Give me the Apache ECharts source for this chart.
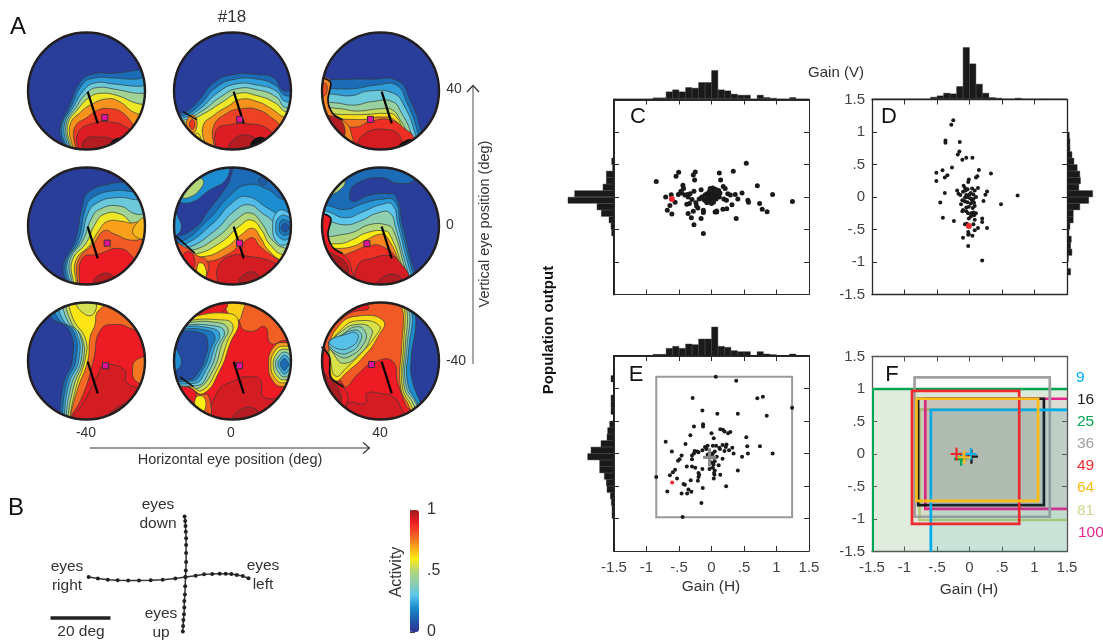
<!DOCTYPE html>
<html><head><meta charset="utf-8">
<style>html,body{margin:0;padding:0;background:#fff}#c{width:1103px;height:642px}</style>
<script src="https://cdn.jsdelivr.net/npm/echarts@6/dist/echarts.min.js"></script>
</head><body><div id="c"></div>
<script>
// ---------- DATA ----------
const tickLabels = ['-1.5','-1','-.5','0','.5','1','1.5'];
const activityColors = ['#2e3192','#1d5cab','#1b8dd0','#5cc6ec','#8ecfb0','#b3d77a','#fdeb14','#f9a11b','#f15a24','#ed1c24','#9b1c20'];
const D_ = [140,-140,-140,-140];   // closes a contour around the lower part of the disc
const disc1 = [
 [.03,[-140,140,140,140,140,-140,-140,-140]],
 [.13,[-41,-110,-45,-64,-30,-27,-10,16,12,29,47,30,92,36,130,38,...D_]],
 [.23,[-38,-110,-42,-62,-26,-27,-6,12,14,22,45,22,80,20,130,22,...D_]],
 [.33,[-36,-110,-38,-60,-22,-27,-2,4,16,14,45,12,85,8,130,8,...D_]],
 [.45,[-34,-110,-35,-58,-18,-28,2,-2,20,6,48,3,88,-4,130,-4,...D_]],
 [.58,[-32,-110,-32,-58,-14,-30,6,-10,24,-4,50,-7,90,-22,130,-24,...D_]],
 [.72,[-30,-110,-28,-58,-8,-34,10,-22,30,-14,52,-16,85,-38,130,-45,...D_]],
 [.85,[-26,-110,-20,-62,2,-44,20,-32,40,-30,60,-36,82,-60,115,-95,...D_]],
 [.92,[-22,-110,-14,-70,10,-55,35,-52,65,-60,85,-80,100,-110,...D_]],
 [.97,[-12,-110,-4,-84,20,-78,50,-86,62,-110,...D_]],
 [0,[36,-100,50,-80,66,-88,60,-115,40,-115],1]
];
const disc2 = [
 [.03,[-140,140,140,140,140,-140,-140,-140]],
 [.13,[-130,-40,-85,-37,-61,-20,-32,14,2,28,41,28,70,22,84,2,98,0,130,0,...D_]],
 [.23,[-130,-44,-85,-42,-58,-26,-28,6,4,20,42,20,72,10,90,-8,130,-8,...D_]],
 [.33,[-130,-48,-85,-46,-55,-30,-24,-2,6,12,42,10,74,0,90,-18,130,-18,...D_]],
 [.45,[-130,-52,-85,-50,-52,-34,-20,-10,8,4,42,2,74,-10,90,-28,130,-28,...D_]],
 [.58,[-130,-56,-85,-54,-48,-38,-16,-18,10,-4,42,-8,72,-20,92,-36,130,-38,...D_]],
 [.72,[-50,-110,-50,-60,-30,-40,-8,-26,14,-14,42,-18,66,-30,90,-45,130,-50,...D_]],
 [.84,[-38,-110,-32,-60,-10,-38,16,-30,44,-32,70,-48,92,-65,130,-70,...D_]],
 [.92,[-36,-110,-27,-66,-4,-57,30,-56,58,-63,78,-85,90,-110,...D_]],
 [.97,[-5,-110,0,-84,30,-76,50,-100]],
 [.74,[-78,-55,-68,-40,-60,-55,-68,-72]],
 [.86,[-73,-56,-68,-48,-64,-56,-68,-65]],
 [.62,[-66,-78,-58,-72,-54,-88,-64,-92]],
 [0,[30,-95,44,-78,58,-86,50,-115],1]
];
const disc3 = [
 [.03,[-140,140,140,140,140,-140,-140,-140]],
 [.13,[-130,16,-80,19,-18,20,30,17,50,-15,67,-61,75,-110,75,-140,-140,-140]],
 [.23,[-130,5,-86,4,-45,4,-7,10,27,10,44,-18,62,-66,70,-110,70,-140,-140,-140]],
 [.33,[-130,-5,-86,-5,-50,-8,-20,0,22,-4,40,-25,58,-70,65,-110,65,-140,-140,-140]],
 [.43,[-130,-20,-78,-20,-45,-24,-15,-18,20,-18,36,-38,52,-72,60,-110,60,-140,-140,-140]],
 [.53,[-130,-30,-70,-30,-40,-34,0,-30,20,-32,34,-50,48,-78,56,-110,56,-140,-140,-140]],
 [.62,[-130,-40,-62,-40,-30,-40,10,-38,25,-42,40,-70,50,-88,52,-110,52,-140,-140,-140]],
 [.76,[-130,-48,-55,-48,-25,-48,0,-44,25,-50,38,-75,48,-110,48,-140,-140,-140]],
 [.87,[-130,-61,-41,-61,-18,-52,16,-49,44,-66,56,-78,60,-110,60,-140,-140,-140]],
 [.93,[-40,-110,-30,-75,16,-66,36,-84,34,-110,34,-140,-40,-140]],
 [.74,[-130,30,-95,24,-84,13,-89,-15,-81,-38,-64,-49,-50,-70,-50,-110,-130,-110]],
 [.82,[-100,10,-92,12,-92,-5,-100,-8]],
 [.97,[-92,-45,-75,-45,-62,-58,-64,-78,-90,-70]],
 [0,[28,-100,42,-84,56,-84,62,-100,40,-115],1]
];
const disc4 = [
 [.03,[-140,140,140,140,140,-140,-140,-140]],
 [.13,[-41,-110,-39,-64,-19,-24,-7,33,4,58,47,73,64,74,90,82,140,82,...D_]],
 [.23,[-38,-110,-35,-62,-14,-24,-2,28,10,48,48,60,80,58,120,58,...D_]],
 [.33,[-35,-110,-32,-60,-10,-24,2,20,16,38,50,48,90,44,120,44,...D_]],
 [.45,[-32,-110,-28,-58,-6,-24,8,12,22,28,55,34,85,20,120,20,...D_]],
 [.58,[-30,-110,-24,-58,0,-28,14,2,30,20,58,20,82,2,120,0,...D_]],
 [.7,[-26,-110,-18,-58,6,-32,22,-6,36,8,60,8,75,5,120,10,...D_]],
 [.8,[-24,-110,-14,-58,12,-30,30,-8,48,-14,75,-24,120,-24,...D_]],
 [.9,[-22,-110,-7,-55,20,-48,55,-38,78,-52,92,-75,120,-90,...D_]],
 [.97,[0,-110,20,-84,45,-84,60,-110,...D_]],
 [.67,[80,-15,86,6,105,14,108,-20]]
];
const disc5 = [
 [.03,[-140,140,140,140,140,-140,-140,-140]],
 [.13,[-130,-20,-95,-18,-60,0,-44,22,-10,67,13,105,140,105,140,-140,-140,-140]],
 [.2,[-130,-30,-90,-28,-40,12,-6,50,25,70,60,62,85,45,130,40,...D_]],
 [.28,[-130,-34,-85,-32,-36,2,0,40,25,50,60,30,85,18,130,15,...D_]],
 [.38,[-130,-40,-80,-38,-30,-8,4,26,28,36,50,22,70,5,80,-20,130,-25,...D_]],
 [.5,[-130,-44,-72,-42,-25,-18,8,12,30,22,50,4,66,-22,90,-38,130,-42,...D_]],
 [.6,[-130,-50,-65,-48,-20,-28,12,0,32,10,50,-8,62,-30,88,-50,130,-52,...D_]],
 [.74,[-130,-54,-50,-52,-14,-38,16,-14,34,-4,48,-20,60,-40,88,-60,130,-62,...D_]],
 [.87,[-130,-62,-42,-60,-8,-48,16,-30,34,-20,46,-34,70,-52,95,-65,130,-70,...D_]],
 [.93,[-32,-110,-24,-68,0,-50,30,-52,60,-58,80,-70,100,-100,...D_]],
 [.97,[5,-110,15,-86,40,-80,55,-110,...D_]],
 [.2,[-90,45,-70,40,-40,60,-10,80,-10,105,-60,90]],
 [.5,[-85,50,-75,48,-55,62,-50,78,-70,80]],
 [.1,[44,78,50,70,58,74,52,82]],
 [.3,[68,-2,76,24,92,24,112,0,92,-30,76,-28]],
 [.22,[73,-3,80,16,94,16,108,-2,94,-22,80,-20]],
 [.15,[79,-3,84,10,94,8,104,-3,94,-14,84,-14]],
 [.08,[83,-3,88,4,94,2,96,-3,92,-9,86,-9]],
 [.22,[-104,25,-92,15,-88,-8,-104,-15]],
 [.82,[-110,-26,-80,-36,-60,-50,-44,-58,-42,-78,-60,-100,-110,-90]],
 [.9,[-84,-50,-72,-44,-64,-60,-68,-72,-82,-66]],
 [.6,[-58,-64,-48,-66,-46,-88,-58,-88]]
];
const disc6 = [
 [.03,[-140,140,140,140,140,-140,-140,-140]],
 [.13,[75,-110,58,-76,38,0,26,50,10,55,-20,52,-47,42,-52,56,-40,72,0,82,30,72,60,80,70,110,-140,110,-140,-140,75,-140]],
 [.22,[66,-110,54,-76,34,0,24,42,0,45,-30,38,-60,28,-92,35,-140,40,-140,-140,66,-140]],
 [.3,[62,-110,50,-76,30,0,20,36,0,36,-30,24,-60,14,-92,25,-140,30,-140,-140,62,-140]],
 [.4,[58,-110,46,-76,26,-4,16,22,-5,22,-35,8,-60,2,-90,8,-140,10,-140,-140,58,-140]],
 [.5,[54,-110,42,-74,22,-8,10,2,-20,2,-45,-10,-68,-15,-90,-18,-140,-18,-140,-140,54,-140]],
 [.6,[50,-110,38,-72,16,-15,5,-8,-25,-12,-45,-22,-70,-30,-140,-30,-140,-140,50,-140]],
 [.74,[46,-110,36,-72,12,-20,0,-14,-25,-24,-45,-34,-72,-38,-140,-38,-140,-140,46,-140]],
 [.87,[44,-110,30,-60,4,-35,-22,-34,-48,-44,-70,-50,-140,-50,-140,-140,44,-140]],
 [.93,[-45,-110,-38,-66,-15,-55,15,-50,30,-58,52,-95,52,-140,-45,-140]],
 [.97,[-5,-110,0,-90,30,-84,35,-110,10,-125]],
 [.9,[-130,26,-98,21,-84,12,-89,-13,-81,-36,-64,-47,-50,-70,-50,-110,-130,-110]],
 [.98,[-100,-45,-75,-50,-55,-70,-62,-88,-95,-70]],
 [.5,[-88,55,-70,60,-60,78,-75,85]]
];
const disc7 = [
 [.03,[-140,140,140,140,140,-140,-140,-140]],
 [.13,[-75,110,-61,75,-30,53,-24,2,-39,-38,-46,-110,-46,-140,140,-140,140,140,-75,140]],
 [.23,[-60,110,-48,72,-22,50,-18,2,-34,-38,-42,-110,-42,-140,140,-140,140,140,-60,140]],
 [.33,[-50,110,-40,70,-17,48,-13,2,-30,-40,-39,-110,-39,-140,140,-140,140,140,-50,140]],
 [.43,[-42,110,-32,68,-12,46,-9,2,-26,-42,-36,-110,-36,-140,140,-140,140,140,-42,140]],
 [.53,[-38,110,-26,66,-8,40,-5,4,-22,-44,-33,-110,-33,-140,140,-140,140,140,-38,140]],
 [.61,[-32,110,-22,70,-2,38,-2,4,-18,-46,-30,-110,-30,-140,140,-140,140,140,-32,140]],
 [.78,[-30,-110,-16,-50,2,0,6,40,14,60,20,85,50,100,105,110,140,-140,-30,-140]],
 [.9,[-32,-110,-5,-55,12,2,24,53,52,62,75,55,105,40,140,-140,-32,-140]],
 [.93,[-32,-110,-4,-68,20,-22,30,-7,64,-15,69,-38,110,-55,140,-140,-32,-140]],
 [.97,[30,-110,50,-80,80,-75,90,-110]],
 [.76,[78,-15,85,2,105,4,105,-35,85,-35]],
 [.54,[-16,102,-10,85,10,78,14,102]]
];
const disc8 = [
 [.9,[-140,140,140,140,140,-140,-140,-140]],
 [.79,[10,110,14,60,32,50,55,58,65,30,90,35,140,30,140,140,10,140]],
 [.64,[-12,102,-8,82,8,68,18,86,20,105]],
 [.91,[-80,75,-50,70,-10,90,-20,110,-80,110]],
 [.93,[-30,-110,-27,-55,10,-30,25,-27,47,-32,53,-61,93,-66,100,-110]],
 [.97,[0,-110,10,-85,40,-82,50,-110]],
 [.8,[-100,-30,-60,-55,-40,-60,-45,-105,-100,-90]],
 [.9,[-90,-45,-68,-48,-62,-62,-76,-72]],
 [.6,[-62,-62,-48,-62,-48,-85,-60,-85]],
 [.62,[-130,60,-78,73,-10,81,10,67,-4,30,-21,-15,-49,-55,-72,-44,-98,-27,-130,-10]],
 [.52,[-130,56,-78,68,-25,70,0,62,-10,30,-26,-14,-52,-50,-72,-40,-130,-12]],
 [.42,[-130,54,-80,64,-32,66,-8,55,-18,28,-32,-14,-58,-46,-75,-38,-130,-20]],
 [.33,[-130,52,-85,60,-34,60,-14,50,-24,26,-38,-14,-62,-42,-130,-20]],
 [.24,[-130,50,-88,58,-38,56,-22,46,-30,24,-44,-14,-66,-38,-130,-20]],
 [.16,[-130,48,-90,54,-44,52,-30,42,-36,22,-50,-14,-70,-34,-130,-18]],
 [.06,[-130,46,-95,50,-50,46,-42,30,-45,10,-56,-16,-76,-32,-130,-16]],
 [.2,[-104,25,-92,15,-88,-8,-104,-15]],
 [.7,[61,-6,70,24,88,31,112,22,115,-6,112,-34,88,-43,70,-36]],
 [.58,[65,-6,73,18,88,25,106,18,111,-6,106,-28,88,-37,73,-30]],
 [.46,[69,-6,76,14,88,20,102,14,107,-6,102,-24,88,-32,76,-26]],
 [.35,[73,-6,79,9,88,15,98,9,103,-6,98,-20,88,-27,79,-20]],
 [.25,[77,-6,82,5,88,10,95,5,99,-6,95,-16,88,-22,82,-16]],
 [.13,[81,-6,84,1,88,4,92,1,95,-6,92,-12,88,-16,84,-12]]
];
const disc9 = [
 [.9,[-140,140,140,140,140,-140,-140,-140]],
 [.8,[-62,-42,-38,-22,-15,-4,20,0,30,-40,50,-80,60,0,45,110,-40,110,-95,65]],
 [.93,[-60,-110,-55,-72,-26,-72,-23,-55,0,-55,22,-61,34,-78,44,-110]],
 [.91,[-80,65,-50,82,-20,90,-50,110,-90,90]],
 [.62,[-88,20,-86,-15,-76,-34,-58,-20,-28,8,-5,40,5,68,-40,76,-70,60]],
 [.55,[-85,25,-84,-5,-75,-26,-58,-12,-32,14,-10,40,-2,60,-40,68,-66,54]],
 [.47,[-84,28,-78,10,-62,-4,-35,12,-18,36,-16,55,-40,62,-66,50]],
 [.4,[-88,30,-70,8,-52,8,-28,30,-26,50,-42,58,-66,44]],
 [.33,[-88,32,-72,14,-50,16,-34,34,-34,48,-48,52,-68,42]],
 [.29,[-86,33,-70,20,-50,24,-38,38,-42,48,-56,46]],
 [.91,[-110,26,-86,5,-86,-24,-63,-44,-56,-70,-75,-80,-110,-60]],
 [.98,[-105,0,-92,-24,-72,-46,-68,-72,-85,-68,-105,-40]],
 [.62,[36,110,39,76,36,24,34,-44,50,-80,58,-110,140,-110,140,110]],
 [.53,[42,110,42,76,39,24,37,-44,54,-80,62,-110,140,-110,140,110]],
 [.42,[46,110,46,72,42,24,40,-42,58,-78,66,-110,140,-110,140,110]],
 [.32,[50,110,50,70,45,24,43,-40,62,-76,70,-110,140,-110,140,110]],
 [.2,[54,110,54,68,48,22,46,-38,64,-76,72,-110,140,-110,140,110]],
 [.03,[58,110,60,64,52,4,54,-34,70,-78,76,-110,140,-110,140,110]]
];
const allDiscs = [disc1,disc2,disc3,disc4,disc5,disc6,disc7,disc8,disc9];
const discCenters = [[86.5,91],[232.5,91],[380.5,91],[86.5,226],[232.5,226],[380.5,226],[86.5,361],[232.5,361],[380.5,361]];
const gazeLine = [[2,-1],[19,-55]];
const fovea = [[31,-45],[12,-48],[-17,-48],[35,-29],[12,-29],[-23,-30],[32,-8],[12,-8],[-15,-6]];
const discWalls = {
 1:[[-84,-35],[-60,-49]],
 2:[[-98,23],[-84,13],[-89,-15],[-81,-38],[-64,-49]],
 4:[[-95,-18],[-64,-46]],
 5:[[-98,21],[-84,12],[-89,-13],[-81,-36],[-64,-47]],
 7:[[-89,-27],[-66,-44]],
 8:[[-100,24],[-86,5],[-86,-24],[-63,-44]]
};
// Panel B: eye trajectories (deg)
const eyesH = [[-32.3,0],[-29.2,-.5],[-25.9,-.9],[-22.6,-1.1],[-19.1,-1.2],[-15.5,-1.2],[-11.6,-1.1],[-7.6,-.9],[-3.4,-.5],[0,0],[3.4,.4],[6.2,.9],[8.9,1],[11.4,1.1],[13.4,1.1],[15.3,1],[17.1,.7],[19.1,.3],[21,-.4]];
const eyesV = [[-.3,20.2],[-.1,18.7],[0,17],[.1,15.1],[.2,12.9],[.2,10.7],[.2,8],[.2,5],[.1,2.2],[0,0],[-.1,-3.1],[-.2,-5.8],[-.4,-8],[-.4,-10.2],[-.5,-12.4],[-.7,-14.3],[-.8,-16.3],[-.9,-18.2]];
const scaleBar = [[-45,-13.7],[-25,-13.7]];
// Panels C, D, E scatter
const scatterC = [[.535,.52],[.335,.395],[.12,.37],[.14,.26],[-.505,.38],[-.545,.32],[-.25,.385],[-.28,.34],[-.26,.26],[-.85,.24],[.705,.175],[.94,.04],[1.245,-.07],[.47,.06],[.365,.04],[.74,-.1],[.78,-.19],[.855,-.225],[.56,-.05],[.57,-.08],[.405,-.03],[.38,-.33],[.315,-.12],[.235,-.18],[.175,-.19],[.08,-.215],[.055,-.23],[-.125,-.56],[-.27,-.425],[-.16,-.33],[-.31,-.32],[-.36,-.255],[-.28,-.22],[-.21,-.17],[-.125,-.205],[-.125,-.24],[-.61,-.26],[-.68,-.205],[-.64,-.13],[-.705,0],[-.56,-.08],[-.62,.035],[-.02,.13],[.02,.14],[.06,.12],[.11,.1],[.03,.08],[-.03,.06],[-.07,.05],[-.1,.03],[-.15,0],[-.19,-.03],[-.12,-.04],[-.06,0],[-.01,.03],[.04,.04],[.08,.05],[.13,.06],[0,-.03],[-.03,-.05],[.03,-.08],[0,-.1],[-.07,-.09],[.07,-.03],[.12,0],[.19,-.03],[.23,-.05],[.18,.16],[.21,.13],[.25,.05],[.29,.03],[.08,-.23],[-.51,.04],[-.46,.06],[-.44,.18],[-.43,.13],[-.41,.03],[-.36,0],[-.33,.05],[-.27,.09],[-.16,.11],[-.38,-.11],[-.34,-.1],[-.24,-.09],[-.23,-.14],[-.3,-.04],[-.37,.04],[-.47,.09],[.02,.02],[-.04,-.02],[.05,.01],[.01,-.06],[.1,.04],[-.09,-.06],[-.03,.09],[.06,.07]];
const redC = [[-.61,-.03]];
const scatterD = [[-.25,1.18],[-.28,1.11],[-.37,.87],[-.37,.835],[-.15,.845],[-.155,.7],[-.18,.655],[-.11,.575],[-.05,.605],[.045,.605],[-.27,.455],[-.415,.41],[-.51,.375],[-.34,.335],[-.38,.3],[-.51,.245],[.145,.415],[.33,.36],[.12,.32],[.1,.3],[-.01,.27],[-.02,.23],[-.09,.175],[-.07,.14],[-.38,.06],[-.45,-.085],[.27,.085],[.245,.035],[.215,-.06],[.74,.025],[.485,-.11],[-.41,-.32],[-.24,-.37],[.195,-.33],[.195,-.385],[.27,-.475],[.13,-.475],[.08,-.51],[.045,-.595],[-.02,-.58],[-.1,-.625],[-.02,-.755],[.195,-.975],[-.19,.1],[-.17,.05],[-.14,.03],[-.1,.08],[-.06,.1],[-.03,.12],[.02,.06],[.06,.04],[.08,.1],[.1,0],[.06,-.03],[.01,-.02],[-.03,0],[-.07,-.01],[-.11,-.05],[-.13,-.11],[-.07,-.07],[-.03,-.08],[.02,-.1],[.07,-.09],[.08,-.14],[.05,-.17],[-.01,-.15],[-.05,-.16],[-.1,-.2],[-.11,-.22],[-.05,-.22],[-.02,-.25],[.03,-.25],[.06,-.24],[.1,-.25],[.02,-.3],[-.01,-.33],[.08,-.35],[.07,-.28],[-.04,-.41],[-.07,-.42],[.06,-.42],[-.02,-.54],[-.01,-.57],[.04,.13],[.13,.14],[.0,.04],[-.05,.03],[.04,-.05]];
const redD = [[-.01,-.445]];
const scatterE = [[.065,1.18],[.38,1.12],[-.29,.855],[.705,.85],[.79,.875],[1.24,.705],[-.14,.66],[.09,.61],[.405,.61],[.85,.58],[-.27,.415],[-.13,.45],[-.13,.415],[.135,.375],[.175,.365],[.2,.34],[.255,.31],[.29,.33],[0,.31],[.035,.235],[-.325,.28],[-.705,.18],[-.4,.145],[.535,.25],[.55,.11],[.745,.11],[.56,0],[.94,0],[.47,-.05],[.405,-.26],[.32,.09],[.34,0],[.23,.14],[-.61,.03],[-.46,-.03],[-.515,-.11],[-.49,-.09],[-.56,-.25],[-.595,-.29],[-.64,-.335],[-.85,-.36],[-.53,-.385],[-.68,-.585],[-.46,-.615],[-.375,-.615],[-.355,-.555],[-.31,-.59],[-.43,-.47],[-.41,-.48],[-.32,-.41],[-.21,-.42],[-.19,-.325],[-.135,-.53],[-.155,-.76],[-.445,-.975],[.225,-.505],[.035,-.385],[.045,-.325],[.135,-.325],[-.1,.1],[-.14,.05],[-.2,.02],[-.22,.03],[-.26,.04],[-.27,0],[-.3,-.03],[-.06,.12],[-.08,.07],[.02,.12],[.07,.12],[.12,.09],[.17,.13],[.22,.1],[.27,.05],[.2,.04],[.13,.07],[.05,.03],[.02,0],[-.03,.01],[-.06,-.02],[0,-.04],[.03,-.06],[.08,-.05],[.17,-.08],[.11,-.18],[.05,-.12],[.03,-.17],[0,-.14],[.02,-.22],[-.03,-.24],[-.14,-.24],[.04,-.3],[-.25,-.22],[-.3,-.2],[-.38,-.2],[-.3,-.09],[.05,-.26],[-.2,-.3],[-.2,-.36]];
const redE = [[-.605,-.445]];
// Marginal histograms, 30 bins of 0.1 gain
const histHorizontal = [0,0,0,0,0,0,4,4,22,28,22,35,33,50,50,86,28,25,15,12,12,0,12,5,3,0,0,5,0,0];
const histCVertical  = [0,0,0,0,0,0,0,0,0,6,3,22,22,32,117,137,50,37,14,8,6,0,0,0,0,0,0,0,0,0];
const histDHorizontal= [0,0,0,0,0,0,0,0,0,6,10,18,16,38,155,106,45,18,5,3,0,0,3,0,0,0,0,0,0,0];
const histDVertical  = [0,0,0,0,0,6,8,8,14,20,30,38,40,35,77,65,38,18,18,8,5,12,10,14,3,0,10,0,0,0];
const histEVertical  = [0,0,0,8,0,0,8,8,8,0,12,18,20,38,68,78,42,42,28,22,20,10,7,5,5,0,0,0,0,0];
// Panel E: grey box and cross
const greyBox = [-.85,-.98,1.24,1.18];
const greyCross = [-.03,-.06,.1,.14];
// Panel F: grid sizes, region boxes [x0,y0,x1,y1] and centres [x,y,halfW,halfH]
const sizeLabels = ['9','16','25','36','49','64','81','100'];
const sizeColors = ['#00aeef','#1a1a1a','#00a651','#a0a0a0','#ee2a2e','#fdbb13','#cdd98a','#e6268c'];
const sizeFills  = ['rgba(0,150,180,.10)','rgba(60,60,60,.07)','rgba(70,150,60,.17)','rgba(120,120,120,.02)','rgba(200,60,60,.02)','rgba(150,130,60,.05)','rgba(110,130,60,.08)','rgba(190,40,110,.08)'];
const sizeBoxes  = [[-.595,-1.7,1.7,.68],[-.79,-.785,1.145,.85],[-1.49,-1.7,1.7,1],[-.845,-.965,1.235,1.18],[-.885,-1.075,.765,.97],[-.815,-.72,1.055,.85],[-.77,-1.015,1.7,.685],[-.68,-.845,1.7,.85]];
const sizeCross  = [[.02,.0,.09,.09],[.03,-.04,.1,.11],[-.13,-.08,.11,.1],[-.04,-.05,.05,.05],[-.2,0,.09,.1],[-.08,-.05,.1,.1],[-.06,-.06,.08,.05],[-.04,-.03,.05,.05]];
const drawOrder = [6,2,7,3,1,0,4,5];

// ---------- LAYOUT ----------
const grid=[],xAxis=[],yAxis=[],series=[];
const FONT='"Liberation Sans",Arial,sans-serif';
function addGrid(l,t,w,h){grid.push({left:l,top:t,width:w,height:h,containLabel:false});return grid.length-1;}
function hidden(idx,o){return Object.assign({gridIndex:idx,show:false},o);}
const contourSeries=[];
discCenters.forEach((c,i)=>{
  const g=addGrid(c[0]-59,c[1]-59,118,118);
  xAxis.push(hidden(g,{type:'value',min:-100,max:100}));const xi=xAxis.length-1;
  yAxis.push(hidden(g,{type:'value',min:-100,max:100}));const yi=yAxis.length-1;
  const contours=allDiscs[i];
  contourSeries.push(series.length);
  series.push({type:'custom',coordinateSystem:'cartesian2d',xAxisIndex:xi,yAxisIndex:yi,z:2,silent:true,clip:false,
    data:contours.map((k,j)=>[k[0],j,k[2]||0]),encode:{x:1,y:0},
    renderItem(p,api){
      const k=contours[p.dataIndex],pts=[];
      for(let n=0;n<k[1].length;n+=2)pts.push(api.coord([k[1][n],k[1][n+1]]));
      const o=api.coord([0,0]),e=api.coord([100,0]);
      return {type:'polygon',shape:{points:pts,smooth:.5},
        clipPath:{type:'circle',shape:{cx:o[0],cy:o[1],r:e[0]-o[0]}},
        style:{fill:k[2]?'#111':api.visual('color'),stroke:(p.dataIndex===0||k[2])?'transparent':'#333b3b',lineWidth:.7,opacity:1}};
    }});
  if(discWalls[i])series.push({type:'line',xAxisIndex:xi,yAxisIndex:yi,data:discWalls[i],symbol:'none',smooth:.3,clip:false,z:3,silent:true,lineStyle:{color:'#111',width:1.6}});
  series.push({type:'line',xAxisIndex:xi,yAxisIndex:yi,data:gazeLine,symbol:'none',clip:false,z:3,silent:true,lineStyle:{color:'#000',width:2.2}});
  series.push({type:'scatter',xAxisIndex:xi,yAxisIndex:yi,data:[fovea[i]],symbol:'rect',symbolSize:6,z:4,silent:true,itemStyle:{color:'#e6119b',borderColor:'#3a2a3a',borderWidth:1,opacity:1}});
  series.push({type:'scatter',xAxisIndex:xi,yAxisIndex:yi,data:[[0,0]],symbol:'circle',symbolSize:117,z:5,silent:true,itemStyle:{color:'rgba(0,0,0,0)',borderColor:'#231f20',borderWidth:2.4,opacity:1}});
});
// Panel B
{
  const g=addGrid(50.5,514,255,126);
  xAxis.push(hidden(g,{type:'value',min:-45,max:40}));const xi=xAxis.length-1;
  yAxis.push(hidden(g,{type:'value',min:-21,max:21}));const yi=yAxis.length-1;
  [eyesH,eyesV].forEach(d=>series.push({type:'line',xAxisIndex:xi,yAxisIndex:yi,data:d,symbol:'circle',symbolSize:4,clip:false,silent:true,lineStyle:{color:'#333',width:1.5},itemStyle:{color:'#222'}}));
  series.push({type:'line',xAxisIndex:xi,yAxisIndex:yi,data:scaleBar,symbol:'none',clip:false,silent:true,lineStyle:{color:'#222',width:3.5,cap:'butt'}});
}
// Colour bar axis
{
  const g=addGrid(410,510,9,122);
  xAxis.push(hidden(g,{type:'value',min:0,max:1}));
  yAxis.push({gridIndex:g,type:'value',position:'right',min:0,max:1,interval:.5,splitLine:{show:false},
    axisLine:{show:true,lineStyle:{color:'#444',width:.8}},axisTick:{show:true,inside:false,length:5,lineStyle:{color:'#444'}},
    axisLabel:{margin:8,fontSize:16,fontFamily:FONT,color:'#333',formatter:v=>v===.5?'.5':String(v)}});
}
const fmt=v=>tickLabels[Math.round((v+1.5)/.5)]||'';
function panel(l,t,o){
  const g=addGrid(l,t,195,195);
  const lc=o.frame||'#2a2a2a';
  const lab={show:true,fontSize:15,fontFamily:FONT,color:'#444',margin:9,formatter:fmt,hideOverlap:false,showMinLabel:true,showMaxLabel:true};
  const base={type:'value',min:-1.5,max:1.5,interval:.5,splitLine:{show:false},axisTick:{show:true,inside:true,length:5,lineStyle:{color:lc,width:1}}};
  xAxis.push(Object.assign({gridIndex:g,position:'bottom',axisLine:{show:true,onZero:false,lineStyle:{color:lc,width:o.thin?1.3:1}},axisLabel:o.xLabels?lab:{show:false}},base));const xi=xAxis.length-1;
  xAxis.push(Object.assign({gridIndex:g,position:'top',axisLine:{show:true,onZero:false,lineStyle:{color:lc,width:o.thin?1.3:2}},axisLabel:{show:false}},base));
  yAxis.push(Object.assign({gridIndex:g,position:'left',axisLine:{show:true,onZero:false,lineStyle:{color:lc,width:o.thin?1.3:2}},axisLabel:o.yLabels?Object.assign({},lab,{margin:7}):{show:false}},base));const yi=yAxis.length-1;
  yAxis.push(Object.assign({gridIndex:g,position:'right',axisLine:{show:true,onZero:false,lineStyle:{color:lc,width:o.thin?1.3:1}},axisLabel:{show:false}},base));
  return {xi,yi};
}
function dots(a,d,red,size,rsize){
  series.push({type:'scatter',xAxisIndex:a.xi,yAxisIndex:a.yi,data:d,symbolSize:size,silent:true,z:3,itemStyle:{color:'#1a1a1a',opacity:1}});
  series.push({type:'scatter',xAxisIndex:a.xi,yAxisIndex:a.yi,data:red,symbolSize:rsize,silent:true,z:4,itemStyle:{color:'#ee2a2e',opacity:1}});
}
const cats=histHorizontal.map((_,i)=>i);
function histTop(l,bottomY,vals){
  const H=60,g=addGrid(l,bottomY-H,195,H);
  xAxis.push(hidden(g,{type:'category',data:cats,boundaryGap:true}));const xi=xAxis.length-1;
  yAxis.push(hidden(g,{type:'value',min:0,max:180}));const yi=yAxis.length-1;
  series.push({type:'bar',xAxisIndex:xi,yAxisIndex:yi,data:vals,barWidth:'102%',barGap:0,silent:true,itemStyle:{color:'#1a1a1a',borderColor:'#1a1a1a',borderWidth:.4}});
}
function histSide(x,t,vals,right){
  const W=right?36:60,g=addGrid(right?x:x-W,t,W,195);
  yAxis.push(hidden(g,{type:'category',data:cats,inverse:true,boundaryGap:true}));const yi=yAxis.length-1;
  xAxis.push(hidden(g,{type:'value',min:0,max:W*3,inverse:!right}));const xi=xAxis.length-1;
  series.push({type:'bar',xAxisIndex:xi,yAxisIndex:yi,data:vals,barWidth:'102%',barGap:0,silent:true,itemStyle:{color:'#1a1a1a',borderColor:'#1a1a1a',borderWidth:.4}});
}
function boxes(a,list,strokes,fills,width){
  series.push({type:'custom',coordinateSystem:'cartesian2d',xAxisIndex:a.xi,yAxisIndex:a.yi,clip:true,silent:true,z:2,
    data:list.map((b,i)=>[b[0],b[1],b[2],b[3],i]),encode:{x:[0,2],y:[1,3]},
    renderItem(p,api){
      const b=list[p.dataIndex],q=api.coord([b[0],b[3]]),r=api.coord([b[2],b[1]]);
      return {type:'rect',shape:{x:q[0],y:q[1],width:r[0]-q[0],height:r[1]-q[1]},style:{fill:fills[p.dataIndex],stroke:strokes[p.dataIndex],lineWidth:width}};
    }});
}
function crosses(a,list,strokes,width){
  series.push({type:'custom',coordinateSystem:'cartesian2d',xAxisIndex:a.xi,yAxisIndex:a.yi,clip:true,silent:true,z:4,
    data:list.map(b=>[b[0],b[1]]),encode:{x:0,y:1},
    renderItem(p,api){
      const b=list[p.dataIndex],s={stroke:strokes[p.dataIndex],lineWidth:width,fill:'none'};
      const h0=api.coord([b[0]-b[2],b[1]]),h1=api.coord([b[0]+b[2],b[1]]),v0=api.coord([b[0],b[1]-b[3]]),v1=api.coord([b[0],b[1]+b[3]]);
      return {type:'group',children:[
        {type:'line',shape:{x1:h0[0],y1:h0[1],x2:h1[0],y2:h1[1]},style:s},
        {type:'line',shape:{x1:v0[0],y1:v0[1],x2:v1[0],y2:v1[1]},style:s}]};
    }});
}
const pC=panel(614,99.5,{});       dots(pC,scatterC,redC,5,6);
const pD=panel(872,99.5,{yLabels:true,thin:true}); dots(pD,scatterD,redD,4,6);
const pE=panel(614,356,{xLabels:true}); boxes(pE,[greyBox],['#9a9a9a'],['rgba(0,0,0,0)'],2); dots(pE,scatterE,redE,4,4); crosses(pE,[greyCross],['#888'],3);
const pF=panel(872,356.5,{xLabels:true,yLabels:true,thin:true,frame:'#555'});
boxes(pF,drawOrder.map(i=>sizeBoxes[i]),drawOrder.map(i=>sizeColors[i]),drawOrder.map(i=>sizeFills[i]),2.7);
crosses(pF,drawOrder.map(i=>sizeCross[i]),drawOrder.map(i=>sizeColors[i]),2.2);
histTop(614,99,histHorizontal); histSide(613.5,99.5,histCVertical,false);
histTop(872,99,histDHorizontal); histSide(1067.5,99.5,histDVertical,true);
histTop(614,355.5,histHorizontal); histSide(613.5,356,histEVertical,false);

// ---------- TEXT ----------
const G=[];
function txt(s,x,y,size,o){o=o||{};G.push({type:'text',x:x,y:y,rotation:o.rot||0,z:20,silent:true,
  style:{text:s,font:(o.bold?'bold ':'')+size+'px '+FONT,fill:o.color||'#333',textAlign:o.align||'center',textVerticalAlign:'middle'}});}
[['A',18,27],['B',16,508]].forEach(t=>txt(t[0],t[1],t[2],24,{color:'#111'}));
[['C',638,117],['D',889,117],['E',636,375],['F',892,375]].forEach(t=>txt(t[0],t[1],t[2],22,{color:'#111'}));
txt('#18',232,17,17);
const hTicks=['-40','0','40'];[86,231,380].forEach((x,i)=>txt(hTicks[i],x,433,14));
const vTicks=['40','0','-40'];[[454,89],[450,225],[456,361]].forEach((p,i)=>txt(vTicks[i],p[0],p[1],14));
txt('Horizontal eye position (deg)',230,460,14.5);
txt('Vertical eye position (deg)',485,224,14.5,{rot:Math.PI/2});
txt('Gain (V)',836,73,15);
txt('Gain (H)',711,587,15.5);txt('Gain (H)',969,590,15.5);
txt('Population output',549,330,15,{bold:true,color:'#111',rot:Math.PI/2});
txt('Activity',397,572,16,{rot:Math.PI/2});
[['eyes',158,505],['down',158,524],['eyes',67,567],['right',67,586],['eyes',263,566],['left',263,585],['eyes',161,614],['up',161,633],['20 deg',81,632]].forEach(t=>txt(t[0],t[1],t[2],15.5));
const labelY=[378,400,422,444,466,488,511,533];
sizeLabels.forEach((s,i)=>txt(s,i===7?1078:(i===0?1076:1077),labelY[i],15.5,{color:sizeColors[i],align:'left'}));
function arrowG(pts,c,w){G.push({type:'polyline',silent:true,z:20,shape:{points:pts},style:{stroke:c,lineWidth:w,fill:'none'}});}
arrowG([[473,364],[473,86]],'#777',1.3);arrowG([[467,92],[473,85.5],[479,92]],'#333',1.2);
arrowG([[90,448],[369,448]],'#777',1.3);arrowG([[363,442.5],[369.5,448],[363,453.5]],'#333',1.2);

const chart=echarts.init(document.getElementById('c'),null,{renderer:'canvas'});
chart.setOption({animation:false,backgroundColor:'#fff',textStyle:{fontFamily:FONT},tooltip:{show:false},
 grid,xAxis,yAxis,series,graphic:G,
 visualMap:[{type:'continuous',show:true,min:0,max:1,dimension:0,seriesIndex:contourSeries,calculable:false,realtime:false,
   left:410,top:510,itemWidth:9,itemHeight:122,padding:0,hoverLink:false,inRange:{color:activityColors}}]
});
</script></body></html>
